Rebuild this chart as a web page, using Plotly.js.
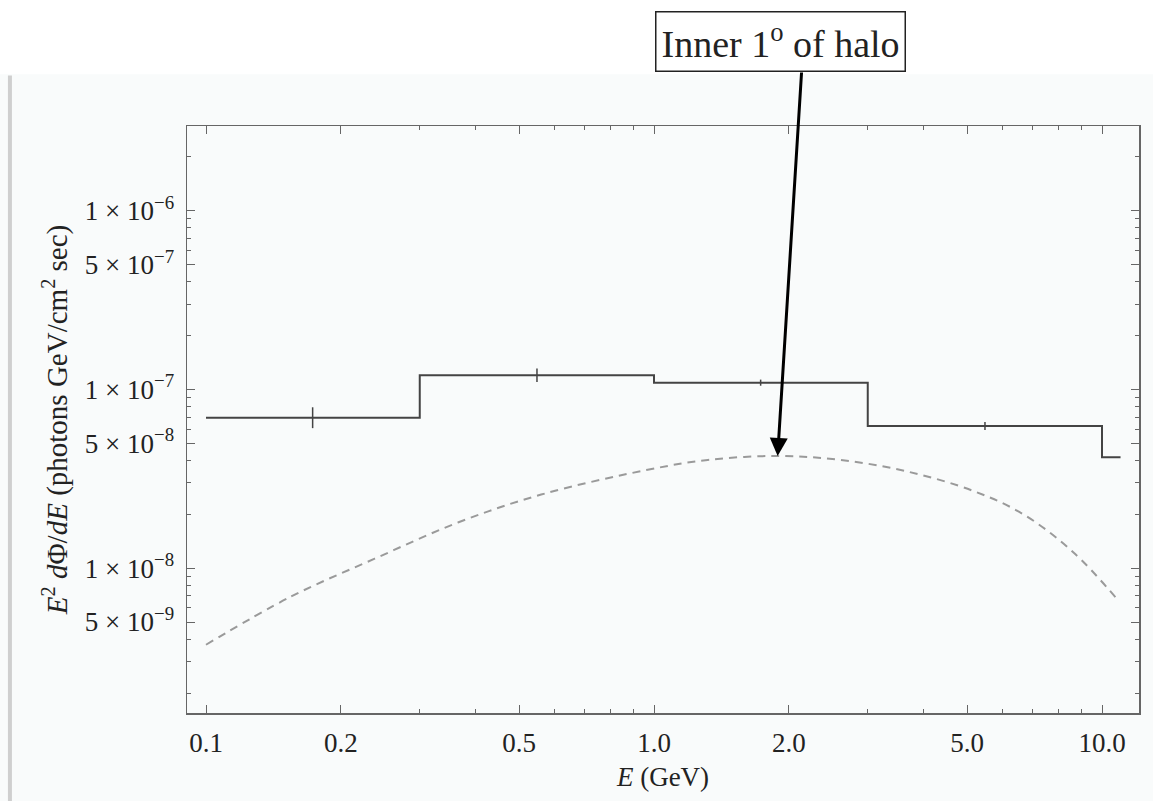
<!DOCTYPE html>
<html>
<head>
<meta charset="utf-8">
<script src="https://cdn.plot.ly/plotly-3.0.1.min.js"></script>
<style>
html,body{margin:0;padding:0;background:#f9fbfb;}
#chart{width:1153px;height:801px;}
</style>
</head>
<body>
<div id="chart"></div>
<script>
// Binned spectrum (step histogram): bin edges in GeV and E^2 dPhi/dE values
var binEdges = [0.1, 0.3, 1.0, 3.0, 10.0, 11.0];
var binValues = [6.94e-8, 1.20e-7, 1.09e-7, 6.24e-8, 4.17e-8];
// Error bars at bin centres
var errE = [0.173, 0.548, 1.73, 5.48];
var errValue = [6.94e-8, 1.20e-7, 1.09e-7, 6.24e-8];
var errUp = [1.0e-8, 1.1e-8, 4.4e-9, 3.2e-9];
var errDown = [8.7e-9, 1.0e-8, 4.2e-9, 3.1e-9];
// Model curve (dashed)
var curveE = [0.1, 0.155, 0.238, 0.365, 0.56, 0.968, 1.318, 1.888, 2.61, 3.68, 5.19, 6.70, 8.65, 10.84];
var curveFlux = [3.73e-9, 6.95e-9, 1.13e-8, 1.80e-8, 2.58e-8, 3.55e-8, 4.03e-8, 4.24e-8, 4.03e-8, 3.47e-8, 2.69e-8, 1.99e-8, 1.22e-8, 6.66e-9];
// Ticks
var xTickVals = [0.1, 0.2, 0.5, 1, 2, 5, 10];
var xTickText = ["0.1", "0.2", "0.5", "1.0", "2.0", "5.0", "10.0"];
var xMinorVals = [0.3, 0.4, 0.6, 0.7, 0.8, 0.9, 3, 4, 6, 7, 8, 9];
var yTickVals = [1e-6, 5e-7, 1e-7, 5e-8, 1e-8, 5e-9];
var yTickText = ["1 × 10<sup>−6</sup>", "5 × 10<sup>−7</sup>", "1 × 10<sup>−7</sup>", "5 × 10<sup>−8</sup>", "1 × 10<sup>−8</sup>", "5 × 10<sup>−9</sup>"];
var yMinorVals = [2e-6, 3e-6, 9e-7, 8e-7, 7e-7, 6e-7, 4e-7, 3e-7, 2e-7, 9e-8, 8e-8, 7e-8, 6e-8, 4e-8, 3e-8, 2e-8, 9e-9, 8e-9, 7e-9, 6e-9, 4e-9, 3e-9, 2e-9];
var annotationText = "Inner 1<sup>o</sup> of halo";

var stepY = binValues.concat([binValues[binValues.length - 1]]);

// Peak of the model curve (arrow target)
var iMax = 0;
for (var i = 1; i < curveFlux.length; i++) if (curveFlux[i] > curveFlux[iMax]) iMax = i;

var serif = "Liberation Serif, Times New Roman, serif";

var traces = [
  {
    x: curveE, y: curveFlux, type: "scatter", mode: "lines",
    line: {color: "#9a9a9a", width: 2, dash: "8px,6px", shape: "spline", smoothing: 1.0},
    hoverinfo: "skip", showlegend: false
  },
  {
    x: binEdges, y: stepY, type: "scatter", mode: "lines",
    line: {color: "#444444", width: 2, shape: "hv"},
    hoverinfo: "skip", showlegend: false
  },
  {
    x: errE, y: errValue, type: "scatter", mode: "markers",
    marker: {size: 0.1, color: "rgba(0,0,0,0)"},
    error_y: {type: "data", symmetric: false, array: errUp, arrayminus: errDown, color: "#444444", thickness: 1.5, width: 0},
    hoverinfo: "skip", showlegend: false
  }
];

var axisCommon = {
  showgrid: false, zeroline: false,
  showline: true, linecolor: "#666666", linewidth: 1.5, mirror: "allticks",
  ticks: "inside", ticklen: 8, tickwidth: 1, tickcolor: "#666666",
  tickfont: {family: serif, size: 27, color: "#222222"}
};

var layout = {
  width: 1153, height: 801,
  paper_bgcolor: "#f9fbfb", plot_bgcolor: "#f9fbfb",
  margin: {l: 187, r: 14, t: 126, b: 88},
  font: {family: serif, color: "#222222"},
  xaxis: Object.assign({}, axisCommon, {
    type: "log", range: [-1.0424, 1.0826],
    tickmode: "array", tickvals: xTickVals, ticktext: xTickText,
    ticklabelstandoff: 5,
    minor: {tickmode: "array", tickvals: xMinorVals, ticks: "inside", ticklen: 4, tickcolor: "#666666", showgrid: false},
    title: {text: "<i>E</i> (GeV)", font: {family: serif, size: 27, color: "#222222"}, standoff: 10}
  }),
  yaxis: Object.assign({}, axisCommon, {
    type: "log", range: [-8.810, -5.527],
    tickmode: "array", tickvals: yTickVals, ticktext: yTickText,
    ticklabelstandoff: 6,
    minor: {tickmode: "array", tickvals: yMinorVals, ticks: "inside", ticklen: 4, tickcolor: "#666666", showgrid: false},
    title: {text: "<i>E</i><sup>2</sup> <i>d</i>Φ/<i>dE</i> (photons GeV/cm<sup>2</sup> sec)", font: {family: serif, size: 29, color: "#222222"}, standoff: 8}
  }),
  shapes: [
    {type: "rect", xref: "paper", yref: "paper", x0: -0.2, x1: 1.02, y0: 1.088, y1: 1.22, fillcolor: "#ffffff", line: {width: 0}, layer: "below"},
    {type: "line", xref: "paper", yref: "paper", x0: -0.186, x1: -0.186, y0: 1.086, y1: -0.16, line: {color: "#cfcfcf", width: 4}}
  ],
  annotations: [
    {
      xref: "x", yref: "y",
      x: Math.log10(curveE[iMax]), y: Math.log10(curveFlux[iMax]),
      ax: 24, ay: -385, axref: "pixel", ayref: "pixel",
      text: "", showarrow: true,
      arrowhead: 2, arrowsize: 1.2, arrowwidth: 3, arrowcolor: "#000000"
    },
    {
      xref: "paper", yref: "paper", x: 0.623, y: 1.144,
      xanchor: "center", yanchor: "middle",
      text: annotationText, showarrow: false,
      font: {family: serif, size: 38, color: "#222222"},
      bgcolor: "#ffffff", bordercolor: "#222222", borderwidth: 1.5, borderpad: 5
    }
  ]
};

Plotly.newPlot("chart", traces, layout, {displayModeBar: false, staticPlot: true});
</script>
</body>
</html>
